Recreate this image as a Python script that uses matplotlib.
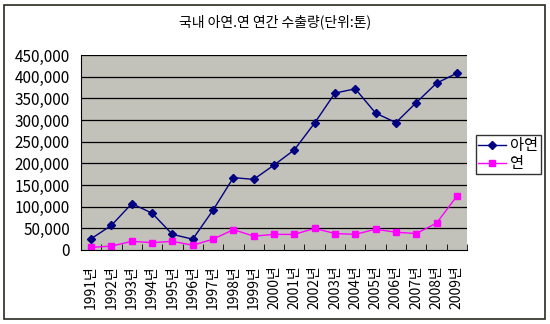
import matplotlib
matplotlib.use("Agg")
import matplotlib.pyplot as plt
from matplotlib.patches import Rectangle
from matplotlib.ticker import FuncFormatter, FixedLocator

plt.rcParams['font.family'] = ['Noto Sans CJK KR', 'DejaVu Sans']

# data
years = [1991, 1992, 1993, 1994, 1995, 1996, 1997, 1998, 1999, 2000,
         2001, 2002, 2003, 2004, 2005, 2006, 2007, 2008, 2009]
year_labels = [f"{y}년" for y in years]
zinc = [26000, 57000, 107000, 85000, 36000, 25000, 92000, 167000, 163000, 196000,
        231000, 293000, 362000, 372000, 316000, 294000, 340000, 385000, 408000]
lead = [6000, 9000, 20000, 17000, 20000, 11000, 25000, 47000, 32000, 36000,
        36000, 50000, 38000, 36000, 48000, 41000, 38000, 62000, 124000]
series_names = ["아연", "연"]
title = "국내 아연.연 연간 수출량(단위:톤)"

W, H = 550, 324
fig = plt.figure(figsize=(W / 100, H / 100), dpi=100)

# outer chart border
fig.patches.append(Rectangle((4 / W, 1 - 319 / H), 541 / W, 314 / H,
                             transform=fig.transFigure, fill=False,
                             edgecolor='#2a2a20', lw=1.2))

ax = fig.add_axes([81 / W, 1 - 250 / H, 386 / W, 195 / H])
ax.set_facecolor('#c2c2ba')

x = list(range(len(years)))
ax.plot(x, zinc, color='#000080', lw=1, marker='D', markersize=4,
        label=series_names[0])
ax.plot(x, lead, color='#ff00ff', lw=1, marker='s', markersize=5,
        label=series_names[1])

ax.set_xlim(-0.5, len(years) - 0.5)
ax.set_ylim(0, 450000)
ax.set_yticks(range(0, 450001, 50000))
ax.yaxis.set_major_formatter(FuncFormatter(lambda v, p: f"{int(v):,}"))
ax.tick_params(axis='y', length=0, labelsize=11, pad=8)
for v in range(50000, 450001, 50000):
    ax.axhline(v, color='black', lw=0.9, zorder=1)

ax.set_xticks(x)
ax.set_xticklabels(year_labels, rotation=90, fontsize=10)
ax.tick_params(axis='x', which='major', length=0, pad=11)
ax.xaxis.set_minor_locator(FixedLocator([i - 0.5 for i in range(len(years) + 1)]))
ax.tick_params(axis='x', which='minor', direction='in', length=4, color='black')

for s in ['top', 'right']:
    ax.spines[s].set_visible(False)
ax.spines['left'].set_color('black')
ax.spines['bottom'].set_color('black')

fig.text(0.5, 1 - 22 / H, title, ha='center', va='center', fontsize=10)

leg = fig.legend(loc='upper left', bbox_to_anchor=(476 / W, 1 - 135 / H),
                 fontsize=11, frameon=True, fancybox=False, edgecolor='black',
                 borderpad=0.15, handlelength=1.8, handletextpad=0.3,
                 labelspacing=0.05, borderaxespad=0)
leg.get_frame().set_linewidth(1)

fig.savefig("out.png", dpi=100)
